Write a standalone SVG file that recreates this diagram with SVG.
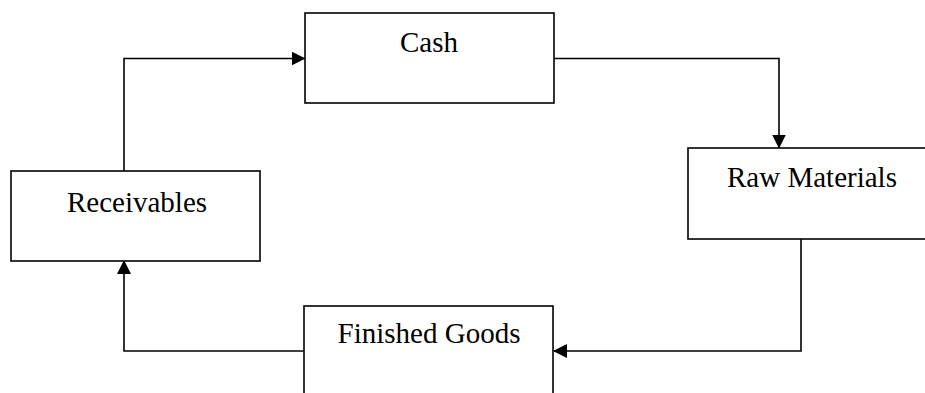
<svg xmlns="http://www.w3.org/2000/svg" width="925" height="393" viewBox="0 0 925 393">
<style>
.box{fill:#fff;stroke:#000;stroke-width:1.6}
.lbl{font-family:"Liberation Serif","Times New Roman",serif;font-size:29px;fill:#000;text-anchor:middle}
.con{fill:none;stroke:#000;stroke-width:1.6}
</style>
<defs>
<marker id="arr" viewBox="0 0 14 14" refX="13" refY="7" markerWidth="14" markerHeight="14" markerUnits="userSpaceOnUse" orient="auto">
<path d="M0,0 L14,7 L0,14 Z" fill="#000"/>
</marker>
</defs>
<rect width="925" height="393" fill="#fff"/>
<g id="connectors">
<polyline class="con" points="124,171 124,58.5 304.5,58.5" marker-end="url(#arr)"/>
<polyline class="con" points="554,58.5 779,58.5 779,147.5" marker-end="url(#arr)"/>
<polyline class="con" points="801,239 801,351 554,351" marker-end="url(#arr)"/>
<polyline class="con" points="304,351 124,351 124,261" marker-end="url(#arr)"/>
</g>
<g id="cash">
<rect class="box" x="305" y="13" width="249" height="90"/>
<text class="lbl" x="429" y="52">Cash</text>
</g>
<g id="raw-materials">
<rect class="box" x="688" y="148" width="250" height="91"/>
<text class="lbl" x="812" y="187">Raw Materials</text>
</g>
<g id="finished-goods">
<rect class="box" x="304" y="306" width="249" height="90"/>
<text class="lbl" x="429" y="343">Finished Goods</text>
</g>
<g id="receivables">
<rect class="box" x="11" y="171" width="249" height="90"/>
<text class="lbl" x="137" y="212">Receivables</text>
</g>
</svg>
